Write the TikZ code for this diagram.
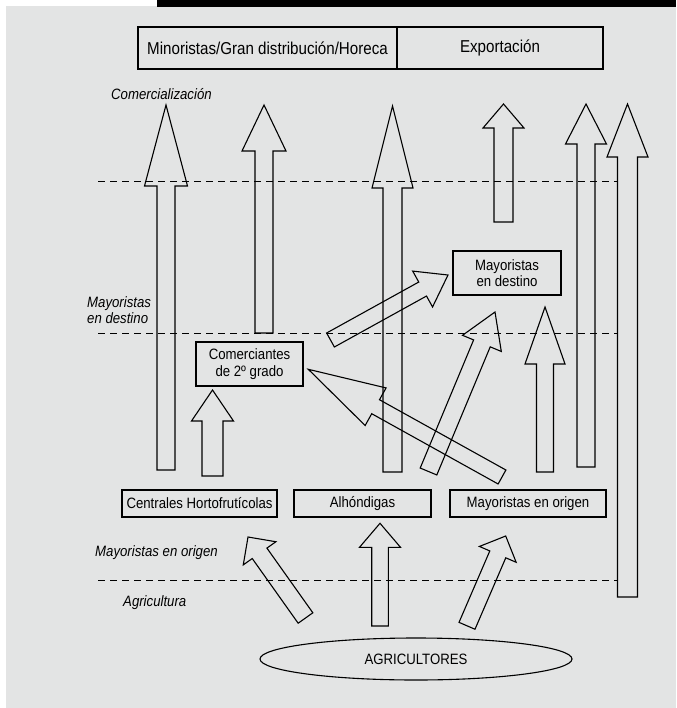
\documentclass[tikz,border=0pt]{standalone}
\usepackage{fontspec}
\setmainfont{Liberation Sans}[FakeStretch=0.88]
\usepackage{tikz}
\usetikzlibrary{calc,shapes.geometric}

\definecolor{fondo}{RGB}{227,228,228}

\newcommand{\normal}{\fontsize{15}{16.5}\selectfont}
\newcommand{\grande}{\fontsize{17.2}{19}\selectfont}

\newcommand{\flecha}[5]{%
  \coordinate (base) at ($(#2)!#5pt!(#1)$);
  \draw[contorno] ($(#1)!#3pt!90:(#2)$) -- ($(base)!#3pt!90:(#2)$)
    -- ($(base)!#4pt!90:(#2)$) -- (#2) -- ($(base)!#4pt!-90:(#2)$)
    -- ($(base)!#3pt!-90:(#2)$) -- ($(#1)!#3pt!-90:(#2)$) -- cycle;
}

\begin{document}
\begin{tikzpicture}[x=1pt,y=-1pt,
    caja/.style={draw, line width=1.2pt, inner sep=0pt, font=\normal, align=center},
    etiqueta/.style={inner sep=0pt, anchor=west, align=left, font=\normal\itshape},
    contorno/.style={line width=1.1pt, line join=miter},
    corte/.style={line width=1pt, dash pattern=on 7pt off 5pt}]
    \useasboundingbox (0,0) rectangle (676,708);
    \fill[fondo] (6,6) rectangle (676,708);
    \fill[black] (157,0) rectangle (676,7);

    \node[caja, minimum width=259pt, minimum height=42pt, font=\grande] (minor) at (267.5,48) {Minoristas/Gran distribución/Horeca};
    \node[caja, minimum width=206pt, minimum height=42pt, font=\grande] (export) at (500,48) {Exportación};
    \node[caja, minimum width=108pt, minimum height=44pt] (maydest) at (507,273) {Mayoristas\\en destino};
    \node[caja, minimum width=107pt, minimum height=44pt] (comerc) at (249.5,364) {Comerciantes\\de 2º grado};
    \node[caja, minimum width=155pt, minimum height=27pt] (centrales) at (199.5,503.5) {Centrales Hortofrutícolas};
    \node[caja, minimum width=137pt, minimum height=27pt] (alhondigas) at (362.5,503.5) {Alhóndigas};
    \node[caja, minimum width=156pt, minimum height=27pt] (mayorig) at (528,503.5) {Mayoristas en origen};
    \node[caja, ellipse, line width=1.1pt, minimum width=312pt, minimum height=42pt] (agricultores) at (416,659) {AGRICULTORES};

    \node[etiqueta] (lcomerc) at (111,94) {Comercialización};
    \node[etiqueta] (ldestino) at (87,310) {Mayoristas\\en destino};
    \node[etiqueta] (lorigen) at (95,553) {Mayoristas en origen};
    \node[etiqueta] (lagric) at (123,603) {Agricultura};

    \draw[corte] (98,182) -- (617.5,182);
    \draw[corte] (98,333) -- (617.5,333);
    \draw[corte] (98,580) -- (617.5,580);

    \coordinate (centr-s) at (166,470);   \coordinate (centr-t) at (166,105);
    \coordinate (comer-s) at (264,333);   \coordinate (comer-t) at (264,105);
    \coordinate (alh-s) at (392.5,472);   \coordinate (alh-t) at (392.5,106);
    \coordinate (dest-s) at (503.5,222);  \coordinate (dest-t) at (503.5,104);
    \coordinate (orig-s) at (586,467);    \coordinate (orig-t) at (586,104);
    \coordinate (agr-s) at (627.5,597);   \coordinate (agr-t) at (627.5,104);
    \coordinate (cc-s) at (212.5,476);    \coordinate (cc-t) at (212.5,390);
    \coordinate (od-s) at (545,472);      \coordinate (od-t) at (545,307);
    \coordinate (ac-s) at (305.5,618);    \coordinate (ac-t) at (248,537);
    \coordinate (aa-s) at (380,626);      \coordinate (aa-t) at (380,523.3);
    \coordinate (ao-s) at (467,625.8);    \coordinate (ao-t) at (505.7,536);
    \coordinate (cd-s) at (330.5,340);    \coordinate (cd-t) at (448,275);
    \coordinate (oc-s) at (502,477);      \coordinate (oc-t) at (308.3,369.3);
    \coordinate (ox-s) at (428.5,471.5);  \coordinate (ox-t) at (495,312);

    \flecha{centr-s}{centr-t}{9}{21.5}{81}
    \flecha{comer-s}{comer-t}{9}{22}{46}
    \flecha{alh-s}{alh-t}{9.5}{20.5}{82}
    \flecha{dest-s}{dest-t}{9.5}{20.5}{24}
    \flecha{orig-s}{orig-t}{9}{20.5}{40}
    \flecha{agr-s}{agr-t}{10}{20.5}{53}
    \flecha{cc-s}{cc-t}{10.5}{21}{31}
    \flecha{od-s}{od-t}{8.5}{20}{57}
    \flecha{ac-s}{ac-t}{9}{20}{20}
    \flecha{aa-s}{aa-t}{8.3}{20.5}{24}
    \flecha{ao-s}{ao-t}{8.7}{20}{20}
    \flecha{cd-s}{cd-t}{8}{20.5}{29}
    \flecha{oc-s}{oc-t}{8}{21.5}{77}
    \flecha{ox-s}{ox-t}{9}{21}{34}
\end{tikzpicture}
\end{document}
